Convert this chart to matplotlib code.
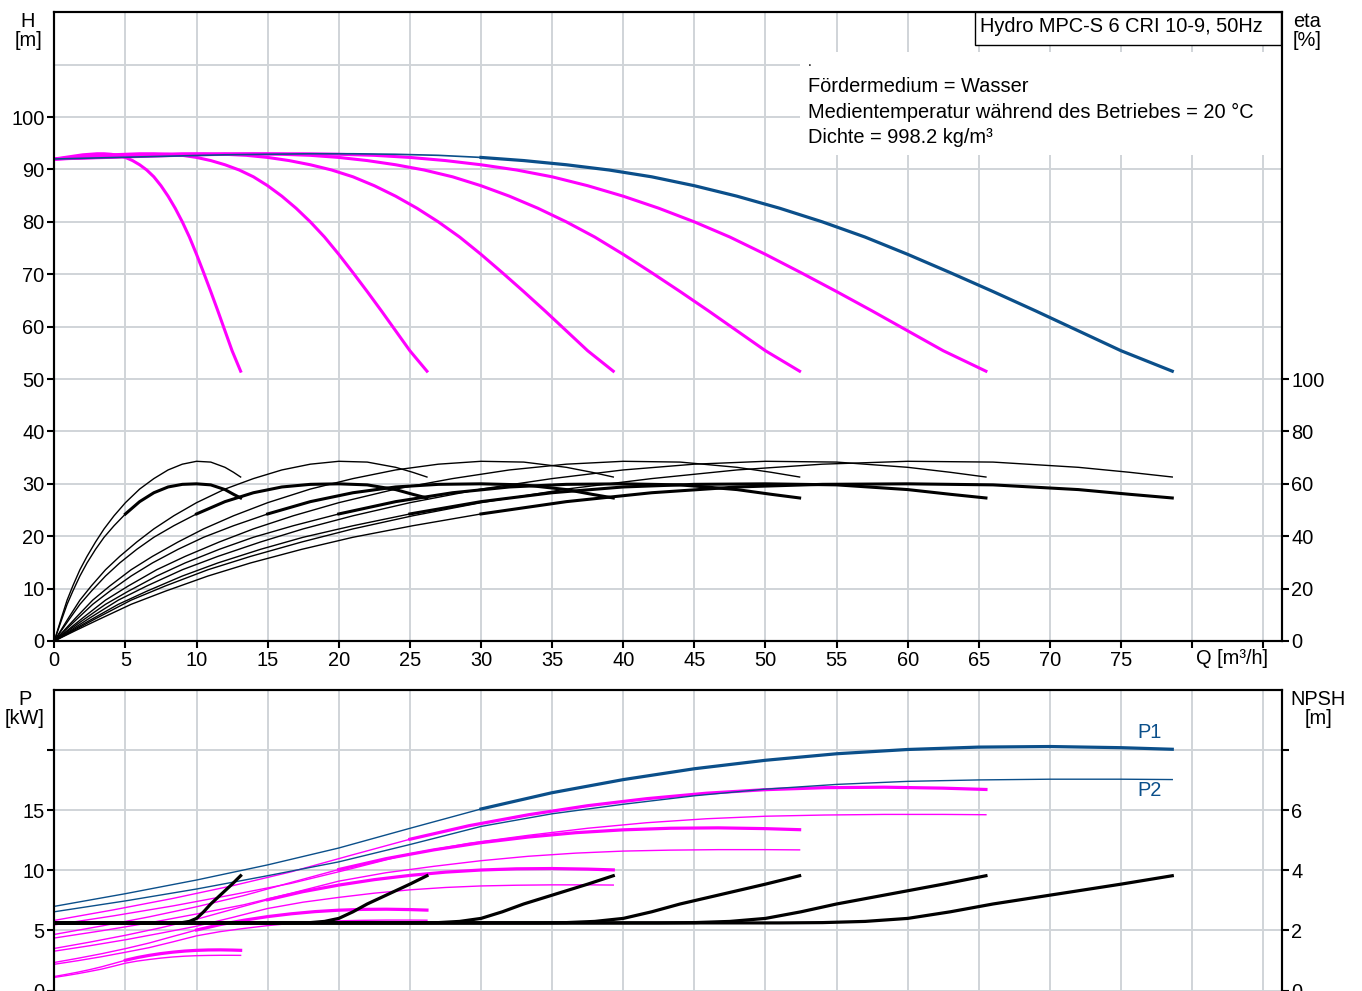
import numpy as np
import matplotlib
matplotlib.use("Agg")
import matplotlib.pyplot as plt
from matplotlib.patches import Rectangle

plt.rcParams['font.family'] = ['Liberation Sans', 'DejaVu Sans']
plt.rcParams['font.size'] = 14.4

# single pump curves (q = flow per pump in m3/h)
q_h = [0, 1, 2, 3, 3.5, 4, 4.5, 5, 5.5, 6, 6.5, 7, 7.5, 8, 8.5, 9, 9.5,
       10, 10.5, 11, 11.5, 12, 12.5, 13.1]
h_h = [92, 92.4, 92.8, 93.0, 93.0, 92.9, 92.7, 92.3, 91.7, 90.9, 89.9, 88.6, 86.9,
       84.9, 82.6, 80.0, 77.1, 73.8, 70.3, 66.7, 63.0, 59.2, 55.4, 51.5]

q_eta = [0, 0.25, 0.5, 0.9, 1.3, 1.8, 2.3, 2.9, 3.5, 4.2, 5, 6, 7, 8, 9, 10,
         11, 12, 12.6, 13.1]
eta_pump = [0, 4.4, 8.8, 15.6, 21.0, 27.2, 32.3, 37.8, 42.8, 47.8, 52.8, 58.0,
            62.0, 65.3, 67.5, 68.6, 68.3, 66.3, 64.4, 62.6]
eta_total = [0, 4.0, 7.9, 14.0, 19.0, 24.8, 29.8, 35.0, 39.6, 44.0, 48.5, 53.2,
             56.6, 58.8, 59.8, 60.0, 59.6, 57.8, 56.0, 54.6]

q_p = [0, 0.83, 1.67, 2.5, 3.33, 4.17, 5, 5.83, 6.67, 7.5, 8.33, 9.17, 10,
       10.83, 11.67, 12.5, 13.1]
p1 = [1.167, 1.342, 1.533, 1.742, 1.975, 2.25, 2.517, 2.742, 2.925, 3.075,
      3.192, 3.283, 3.342, 3.375, 3.383, 3.367, 3.345]
p2 = [1.092, 1.242, 1.408, 1.592, 1.783, 2.025, 2.275, 2.45, 2.583, 2.7,
      2.792, 2.858, 2.9, 2.92, 2.93, 2.93, 2.925]

q_npsh = [0, 5, 8.5, 9, 9.5, 10, 10.5, 11, 11.5, 12, 12.5, 13.1]
npsh = [2.25, 2.25, 2.25, 2.26, 2.3, 2.4, 2.62, 2.88, 3.1, 3.32, 3.54, 3.82]

pumps = [1, 2, 3, 4, 5, 6]
q_min = 5  # start of the thick (recommended) range per pump

MAG = '#ff00ff'
BLUE = '#0b4f8a'
GRID = '#d0d4d8'

W, H = 1362, 991
fig = plt.figure(figsize=(W / 100, H / 100), dpi=100)


def fx(px):
    return px / W


def fy(py):
    return 1 - py / H


def split(q, v, n):
    q = np.array(q) * n
    v = np.array(v, dtype=float)
    lo = q <= q_min * n
    hi = q >= q_min * n
    return (q[lo], v[lo]), (q[hi], v[hi])


# ---------- top panel: H / eta ----------
x0, x1 = 54.3, 1281.7
ax1 = fig.add_axes([fx(x0), fy(641), fx(x1 - x0), (641 - 12.3) / H])
ax1.set_xlim(0, (x1 - x0) / 14.2235)
ax1.set_ylim(0, 120)
ax1.set_axisbelow(True)
ax1.set_xticks(range(0, 90, 5))
ax1.set_xticklabels([str(v) if v <= 75 else '' for v in range(0, 90, 5)])
ax1.set_yticks(range(0, 101, 10))
ax1.set_yticks([110], minor=True)
ax1.grid(True, which='both', color=GRID, lw=1.4)
ax1.tick_params(which='major', length=5, width=1.5, pad=2)
ax1.tick_params(which='minor', length=0)
for s in ax1.spines.values():
    s.set_linewidth(1.5)

ax1b = ax1.twinx()
ax1b.set_ylim(0, 240)
ax1b.set_yticks(range(0, 101, 20))
ax1b.tick_params(length=5, width=1.5, pad=2)
for s in ax1b.spines.values():
    s.set_linewidth(1.5)

# white block behind the medium info
ax1.add_patch(Rectangle((0.6075, 0.773), 0.3925, 0.164, transform=ax1.transAxes,
                        facecolor='white', edgecolor='none', zorder=1))

for n in pumps:
    col = BLUE if n == 6 else MAG
    if n == 6:
        (a, b), (c, d) = split(q_h, h_h, n)
        ax1.plot(a, b, color=col, lw=1.2, zorder=3)
        ax1.plot(c, d, color=col, lw=2.3, zorder=3)
    else:
        ax1.plot(np.array(q_h) * n, h_h, color=col, lw=2.2, zorder=3)
    ax1b.plot(np.array(q_eta) * n, eta_pump, color='black', lw=1.0)
    (a, b), (c, d) = split(q_eta, eta_total, n)
    ax1b.plot(a, b, color='black', lw=1.0)
    ax1b.plot(c, d, color='black', lw=2.2)

# ---------- bottom panel: P / NPSH ----------
y_top, y_bot = 690, 1001
ax2 = fig.add_axes([fx(x0), fy(y_bot), fx(x1 - x0), (y_bot - y_top) / H])
ax2.set_xlim(ax1.get_xlim())
ax2.set_ylim(-(y_bot - 990.5) / 12.06, 25)
ax2.set_axisbelow(True)
ax2.set_xticks(range(0, 90, 5))
ax2.set_xticklabels([])
ax2.set_yticks(range(0, 21, 5))
ax2.set_yticklabels(['0', '5', '10', '15', ''])
ax2.grid(True, color=GRID, lw=1.4)
ax2.tick_params(length=5, width=1.5, pad=2)
ax2.tick_params(axis='x', length=0)
for s in ax2.spines.values():
    s.set_linewidth(1.5)

ax2b = ax2.twinx()
lo, hi = ax2.get_ylim()
ax2b.set_ylim(lo * 0.4, hi * 0.4)
ax2b.set_yticks(range(0, 9, 2))
ax2b.set_yticklabels(['0', '2', '4', '6', ''])
ax2b.tick_params(length=5, width=1.5, pad=2)
for s in ax2b.spines.values():
    s.set_linewidth(1.5)

for n in pumps:
    col = BLUE if n == 6 else MAG
    (a, b), (c, d) = split(q_p, p1, n)
    ax2.plot(a, b * n, color=col, lw=1.0)
    ax2.plot(c, d * n, color=col, lw=2.3)
    ax2.plot(np.array(q_p) * n, np.array(p2) * n, color=col, lw=1.0)
    ax2b.plot(np.array(q_npsh) * n, npsh, color='black', lw=2.3)

# ---------- texts ----------
fig.text(fx(28), fy(31), 'H\n[m]', ha='center', va='center', linespacing=0.95)
fig.text(fx(1307), fy(31), 'eta\n[%]', ha='center', va='center', linespacing=0.95)
fig.text(fx(25), fy(709), 'P\n[kW]', ha='center', va='center', linespacing=0.95)
fig.text(fx(1318), fy(709), 'NPSH\n[m]', ha='center', va='center', linespacing=0.95)
fig.text(fx(1232), fy(658), 'Q [m³/h]', ha='center', va='center')

fig.patches.append(Rectangle((fx(975), fy(45)), fx(1281 - 975), (45 - 12) / H,
                             transform=fig.transFigure, facecolor='white',
                             edgecolor='black', lw=1.0, zorder=5))
fig.text(fx(980), fy(27), 'Hydro MPC-S 6 CRI 10-9, 50Hz', ha='left', va='center', zorder=6)

fig.text(fx(808), fy(62), '.', ha='left', va='center', fontsize=10)
fig.text(fx(808), fy(87), 'Fördermedium = Wasser', ha='left', va='center')
fig.text(fx(808), fy(112), 'Medientemperatur während des Betriebes = 20 °C', ha='left', va='center')
fig.text(fx(808), fy(138), 'Dichte = 998.2 kg/m³', ha='left', va='center')

fig.text(fx(1150), fy(733), 'P1', color=BLUE, ha='center', va='center')
fig.text(fx(1150), fy(790), 'P2', color=BLUE, ha='center', va='center')

fig.savefig('out.png', dpi=100)
